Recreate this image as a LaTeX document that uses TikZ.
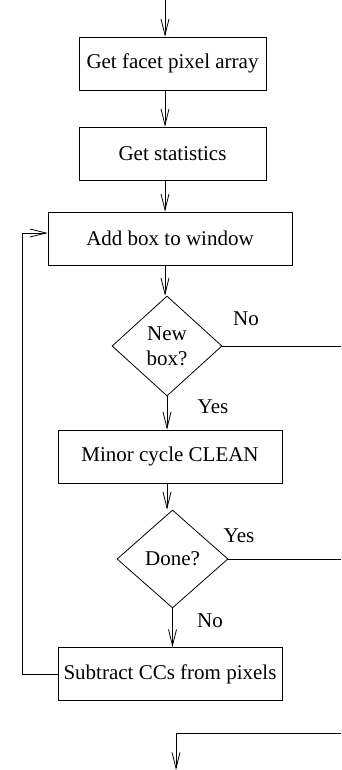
\documentclass[tikz,border=0pt]{standalone}
\usepackage{fontspec}
\setmainfont{Liberation Serif}
\usetikzlibrary{shapes.geometric, arrows.meta}
\tikzset{
    block/.style={draw, line width=0.8pt, minimum height=53pt, inner sep=0pt,
        font=\fontsize{21}{25}\selectfont},
    decision/.style={diamond, draw, line width=0.8pt, inner sep=0pt, align=center,
        font=\fontsize{21}{25}\selectfont},
    arr/.style={line width=0.8pt, -{Straight Barb[length=16pt, width=8pt, line width=0.8pt]}},
    line/.style={line width=0.8pt},
    answer/.style={font=\fontsize{21}{25}\selectfont, inner sep=0pt}
}

\begin{document}
\begin{tikzpicture}[x=1pt, y=-1pt]
    \useasboundingbox (0,0) rectangle (341,770);

    % Entry and exit points
    \coordinate (in) at (165,0);
    \coordinate (out) at (176,770);
    \coordinate (back) at (22,233);
    \coordinate (edge) at (341,0);
    \coordinate (rejoin) at (341,733);

    % Draw the steps
    \node[block, minimum width=187pt] (facet) at (172.5,63.5) {Get facet pixel array};
    \node[block, minimum width=187pt] (stats) at (172.5,153.5) {Get statistics};
    \node[block, minimum width=244pt] (addbox) at (170,238.5) {Add box to window};
    \node[decision, minimum width=110pt, minimum height=100pt] (newbox) at (167,346) {New\\box?};
    \node[block, minimum width=224pt] (minor) at (170,456.5) {Minor cycle CLEAN};
    \node[decision, minimum width=111pt, minimum height=98pt] (done) at (172.5,559) {Done?};
    \node[block, minimum width=224pt] (subtract) at (170,674) {Subtract CCs from pixels};

    % Answers at the decisions
    \node[answer] (no1) at (246,319) {No};
    \node[answer] (yes1) at (213,407) {Yes};
    \node[answer] (yes2) at (239,536) {Yes};
    \node[answer] (no2) at (210,621) {No};

    % Main flow
    \draw[arr] (in) -- (in |- facet.north);
    \draw[arr] (facet.south -| in) -- (stats.north -| in);
    \draw[arr] (stats.south -| in) -- (addbox.north -| in);
    \draw[arr] (addbox.south -| in) -- (newbox.north -| in);
    \draw[arr] (newbox.south) -- (minor.north -| newbox.south);
    \draw[arr] (minor.south -| newbox.south) -- (done.north -| newbox.south);
    \draw[arr] (done.south) -- (subtract.north -| done.south);

    % Loop back to the window
    \draw[line] (subtract.west) -| (back);
    \draw[arr] (back) -- (back -| addbox.west);

    % Branches off to the right
    \draw[line] (newbox.east) -- (newbox.east -| edge);
    \draw[line] (done.east) -- (done.east -| edge);
    \draw[line] (rejoin) -- (rejoin -| out);
    \draw[arr] (rejoin -| out) -- (out);
\end{tikzpicture}
\end{document}
